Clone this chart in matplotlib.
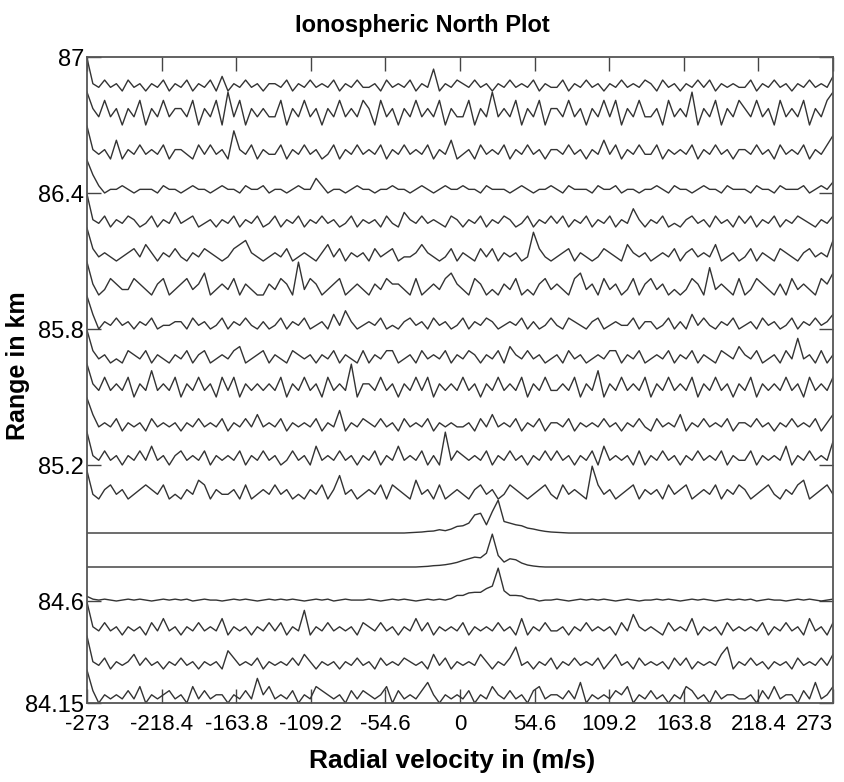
import numpy as np
import matplotlib.pyplot as plt

# Range gates (km), bottom to top
gates = [84.15, 84.30, 84.45, 84.60, 84.75, 84.90, 85.05, 85.20, 85.35, 85.50,
         85.65, 85.80, 85.95, 86.10, 86.25, 86.40, 86.55, 86.70, 86.85]

vel_ticks = [-273, -218.4, -163.8, -109.2, -54.6, 0, 54.6, 109.2, 163.8, 218.4, 273]
vel_labels = ['-273', '-218.4', '-163.8', '-109.2', '-54.6', '0', '54.6', '109.2', '163.8', '218.4', '273']
range_ticks = [84.15, 84.6, 85.2, 85.8, 86.4, 87]
range_labels = ['84.15', '84.6', '85.2', '85.8', '86.4', '87']

# spectra, one digit per Doppler bin (0 = floor, 9 = spike)
gate_8415 = """8302121314021231 2041312202131624 1213021432120313 2124031213520212
               1302142131203412 2131502121324021 3120214312031221 1203141220315124"""
gate_8430 = """9213021241312021 3120212053121302 1213142021202131 2031213212041302
               1214202136120213 0213121302412031 2120313021214602 1312021203121314"""
gate_8445 = """8213120212031412 0213121402120213 1302160213121203 2131202141302121
               3021213120402131 1202131212031521 2103121402120312 1213021312041203"""
gate_8460_floor = """6323212323212323 2312322123232123 2323212323123222 3212323212323213
                     2323123212323122 3212323232123212 2323212323212323 2312322123232123"""
gate_8460_echo = [0] * 62 + [8, 12, 15, 20, 25, 22, 40, 45, 100, 30, 18, 15, 10, 5] + [0] * 52
gate_8475 = [0] * 57 + [1, 2, 4, 5, 7, 10, 14, 20, 25, 30, 28, 42, 100, 35, 15, 25, 22,
                        12, 6, 3, 1] + [0] * 50
gate_8490 = [0] * 55 + [1, 2, 3, 5, 6, 10, 7, 12, 20, 22, 30, 55, 60, 25, 65, 100, 35, 30,
                        25, 22, 15, 12, 8, 5, 3, 2, 1] + [0] * 46
gate_8505 = """6102312012321301 0214302112030121 3120102130251201 2130321041203012
               1023120132101231 0312107312012302 1203123012130213 2012310213401231"""
gate_8520 = """7213120213141202 3121302121302131 2013120412131202 1302141213020713
               2121302131202131 3120213041212030 2131202131213021 1302121402131215"""
gate_8535 = """8412130212031212 0213121302131412 1302121302150213 2131203121302121
               1203141213021302 2130212131202131 0312140213121302 2131202131213024"""
gate_8550 = """5213121302141213 0213120313021212 1302131203121502 2131202131302121
               3120213121302131 1213021402131213 0213121302131202 1302121312031213"""
gate_8565 = """8312010321302102 1302301213401230 2103212021302103 0213301203121302
               1320213042131201 2031201213302130 1213021302103214 2130120316120302"""
gate_8580 = """9402131202130112 2031201302131020 1302130120415201 2130102312031201
               3021320121302013 1032102301211302 2013020413102130 1203120130213124"""
gate_8595 = """6201321132102301 2312401213021002 1320613201230121 0213221030121342
               1032010213010231 2103412031201302 3120101320512103 0132102031210324"""
gate_8610 = """8312101231420213 1021321013452101 2130121024130212 0312301124210130
               2103130212017310 1230210132104212 0121302312140120 1302103210231215"""
gate_8625 = """9213021320130214 1230120213021301 3021302131201302 1203104213121032
               0213021320130213 1302130213021520 2130102312031203 1302130213210213"""
gate_8640 = """9520112101110211 0121101211021120 1101211420110121 1011211012101211
               2110211101210112 1021110211201101 1210211012110211 1021102111201213"""
gate_8655 = """7212040213121302 2103131206213021 1302131201302131 2130213121302140
               1203121302131202 2131202141302131 1302121302131202 2131203121302135"""
gate_8670 = """4213120213021312 2130213041302121 1302131202131213 2031202131213021
               1302141213021302 2131202131302131 1203121402130213 2131203121302134"""
gate_8685 = """9213120312021302 1302130402131202 2130213121302131 1203121302160213
               2131202131213021 1302131202131213 2031202131302121 1302131202131214"""


def digits(s):
    return [int(c) for c in "".join(s.split())]


floor_8460 = np.array(digits(gate_8460_floor)) * 3.0
spectra = [digits(gate_8415), digits(gate_8430), digits(gate_8445),
           floor_8460 + np.array(gate_8460_echo), gate_8475, gate_8490,
           digits(gate_8505), digits(gate_8520), digits(gate_8535), digits(gate_8550),
           digits(gate_8565), digits(gate_8580), digits(gate_8595), digits(gate_8610),
           digits(gate_8625), digits(gate_8640), digits(gate_8655), digits(gate_8670),
           digits(gate_8685)]

font = 'Liberation Sans'

fig = plt.figure(figsize=(8.45, 7.82), dpi=100)
ax = fig.add_axes([87 / 845, 1 - 703 / 782, 746 / 845, 646 / 782])

for gate, spec in zip(gates, spectra):
    spec = np.asarray(spec, dtype=float)
    vel = np.linspace(-273, 273, len(spec))
    norm = (spec - spec.min()) / (spec.max() - spec.min())
    ax.plot(vel, gate + 0.145 * norm, color='#333333', linewidth=1.0)

ax.set_xlim(-273, 273)
ax.set_ylim(84.15, 87)
ax.set_xticks(vel_ticks)
ax.set_xticklabels(vel_labels, family=font, fontsize=16)
ax.get_xticklabels()[-1].set_horizontalalignment('right')
ax.set_yticks(range_ticks)
ax.set_yticklabels(range_labels, family=font, fontsize=17)
ax.tick_params(direction='in', length=10, width=1, top=True, right=True,
               color='#444444')
ax.tick_params(axis='x', pad=8)
ax.tick_params(axis='y', pad=2)
for sp in ax.spines.values():
    sp.set_color('#555555')
    sp.set_linewidth(1.3)

fig.text(422 / 845, 1 - 32 / 782, 'Ionospheric North Plot', ha='center', va='baseline',
         family=font, fontsize=17, fontweight='bold')
fig.text(452 / 845, 1 - 768 / 782, 'Radial velocity in (m/s)', ha='center', va='baseline',
         family=font, fontsize=19, fontweight='bold')
fig.text(18 / 845, 1 - 366 / 782, 'Range in km', ha='center', va='center', rotation=90,
         family=font, fontsize=18, fontweight='bold')

plt.savefig('out.png', dpi=100)
